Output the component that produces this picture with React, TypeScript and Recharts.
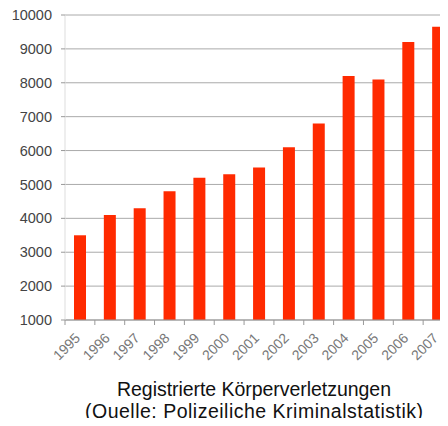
import { Bar, BarChart, CartesianGrid, XAxis, YAxis } from "recharts";

const years = ["1995", "1996", "1997", "1998", "1999", "2000", "2001", "2002", "2003", "2004", "2005", "2006", "2007"];
const cases = [3500, 4100, 4300, 4800, 5200, 5300, 5500, 6100, 6800, 8200, 8100, 9200, 9650];
const yTicks = [1000, 2000, 3000, 4000, 5000, 6000, 7000, 8000, 9000, 10000];
const titleLines = ["Registrierte Körperverletzungen", "(Quelle: Polizeiliche Kriminalstatistik)"];

const data = years.map((year, i) => ({ year, cases: cases[i] }));

const font = '"Liberation Sans", Arial, sans-serif';
// measured widths of the two title lines in the original
const titleWidths = [274, 338];

function YearTick(props: any) {
  const { x, y, payload } = props;
  const half = payload?.offset ?? 15;
  const ax = x + 1;
  const ay = y + 19;
  return (
    <g>
      <line x1={x - half} x2={x - half} y1={y} y2={y + 5} stroke="#999" />
      <text
        x={ax}
        y={ay}
        textAnchor="end"
        fontSize={14}
        fontFamily={font}
        fill="#777"
        transform={`rotate(-45 ${ax} ${ay})`}
      >
        {payload.value}
      </text>
    </g>
  );
}

export default function App() {
  return (
    <div
      style={{
        position: "relative",
        margin: -8,
        width: 448,
        height: 426,
        overflow: "hidden",
        background: "#fff",
      }}
    >
      <BarChart
        width={460}
        height={372}
        data={data}
        margin={{ top: 15, right: 7, left: 0, bottom: 0 }}
        barCategoryGap={0}
      >
        <CartesianGrid vertical={false} stroke="#aaa" />
        <XAxis
          dataKey="year"
          height={52}
          interval={0}
          tickSize={0}
          tickMargin={0}
          tickLine={false}
          axisLine={{ stroke: "#999" }}
          tick={<YearTick />}
        />
        <YAxis
          width={65}
          domain={[1000, 10000]}
          ticks={yTicks}
          allowDataOverflow
          tickSize={4}
          tickMargin={9}
          tickLine={{ stroke: "#999" }}
          axisLine={{ stroke: "#ddd" }}
          tick={{ fontSize: 14.5, fill: "#444", fontFamily: font }}
        />
        <Bar dataKey="cases" fill="#ff2a00" barSize={12} isAnimationActive={false} />
      </BarChart>
      <svg
        width={448}
        height={54}
        style={{ position: "absolute", left: 0, top: 372 }}
      >
        {titleLines.map((line, i) => (
          <text
            key={line}
            x={254}
            y={24 + i * 22}
            textAnchor="middle"
            fontFamily={font}
            fontSize={19.5}
            textLength={titleWidths[i]}
            lengthAdjust="spacing"
            fill="#111"
          >
            {line}
          </text>
        ))}
      </svg>
    </div>
  );
}
